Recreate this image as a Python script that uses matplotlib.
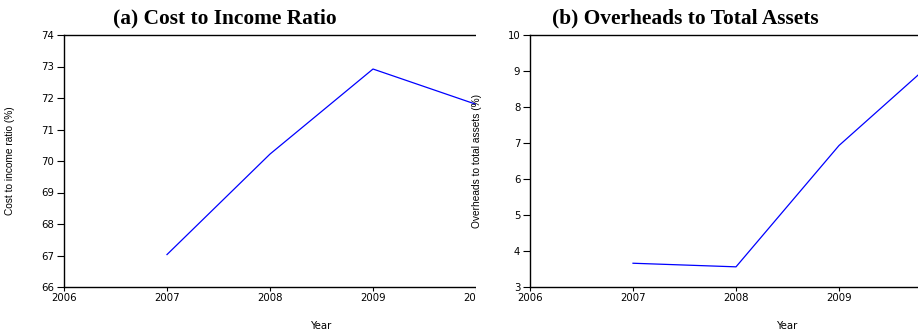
import matplotlib
matplotlib.use("Agg")
import matplotlib.pyplot as plt
from matplotlib.patches import Rectangle

years = [2007, 2008, 2009, 2010]
cost_income = [67.03, 70.22, 72.92, 71.8]
overheads_assets = [3.66, 3.56, 6.93, 9.48]
xticks_a = [2006, 2007, 2008, 2009, 2010, 2011]
xticks_b = [2006, 2007, 2008, 2009]

W, H = 918, 334
fig = plt.figure(figsize=(W / 100, H / 100), dpi=100)

def setup(ax, ylim, yticks, xticks, ylabel, lab_x):
    ax.set_xlim(2006, 2011)
    ax.set_ylim(*ylim)
    ax.set_xticks(xticks)
    ax.set_yticks(yticks)
    ax.tick_params(axis="y", direction="out", length=5, width=0.8, labelsize=7.3, pad=2)
    ax.tick_params(axis="x", direction="out", length=3, width=0.8, labelsize=7.3, pad=1)
    for s in ax.spines.values():
        s.set_linewidth(1.0)
    ax.set_ylabel(ylabel, fontsize=7.3, family=["Liberation Sans Narrow", "Liberation Sans"])
    ax.yaxis.set_label_coords(lab_x, 0.5)
    ax.set_xlabel("Year", fontsize=7.3)
    ax.xaxis.set_label_coords(0.5, -0.135)

bottom = (H - 287) / H
height = 252 / H
axw = 515 / W

ax1 = fig.add_axes([64 / W, bottom, axw, height], zorder=0)
ax1.plot(years, cost_income, color="blue", lw=0.9)
setup(ax1, (66, 74), range(66, 75), xticks_a, "Cost to income ratio (%)", -0.095)

# right-hand part of the first panel is cut off
fig.add_artist(Rectangle((476 / W, 0), 1, 1, transform=fig.transFigure,
                         facecolor="white", edgecolor="none", zorder=1))

ax2 = fig.add_axes([530 / W, bottom, axw, height], zorder=2)
ax2.plot(years, overheads_assets, color="blue", lw=0.9)
setup(ax2, (3, 10), range(3, 11), xticks_b, "Overheads to total assets (%)", -0.093)

fig.text(225 / W, 1 - 18 / H, "(a) Cost to Income Ratio", ha="center", va="center",
         fontsize=15.4, fontweight="bold", family="Liberation Serif")
fig.text(685 / W, 1 - 18 / H, "(b) Overheads to Total Assets", ha="center", va="center",
         fontsize=15.4, fontweight="bold", family="Liberation Serif")

fig.savefig("out.png", dpi=100)
